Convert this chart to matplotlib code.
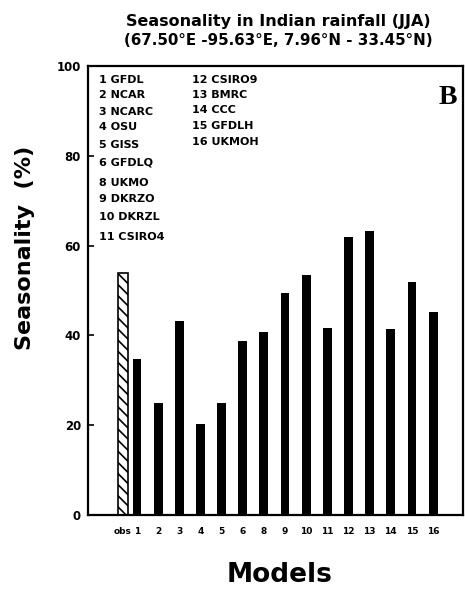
import matplotlib.pyplot as plt
import numpy as np

plt.rcParams['font.family'] = ['DejaVu Sans']
plt.rcParams['font.weight'] = 'bold'
plt.rcParams['hatch.linewidth'] = 1.2

obs_value = 54
model_ids = [1, 2, 3, 4, 5, 6, 8, 9, 10, 11, 12, 13, 14, 15, 16]
model_values = [34.7, 25, 43.3, 20.2, 25, 38.8, 40.7, 49.5, 53.5, 41.6, 62, 63.2, 41.4, 51.8, 45.1]
model_names = ["GFDL", "NCAR", "NCARC", "OSU", "GISS", "GFDLQ", "UKMO", "DKRZO",
               "DKRZL", "CSIRO4", "CSIRO9", "BMRC", "CCC", "GFDLH", "UKMOH"]

fig = plt.figure(figsize=(4.65, 5.91), dpi=100)
ax = fig.add_axes([0.189, 0.129, 0.807, 0.759])

x = np.arange(1, len(model_ids) + 1)
obs_x = 1 - 0.66
ax.bar(obs_x, obs_value, width=0.45, color="white", edgecolor="black",
       hatch="\\\\\\", linewidth=1.2)
ax.bar(x, model_values, width=0.42, color="black")

ax.set_xlim(-1.32, 16.42)
ax.set_ylim(0, 100)
ax.set_xticks([obs_x] + list(x))
ax.set_xticklabels(["obs"] + [str(m) for m in model_ids], fontsize=6.5, fontweight="bold")
ax.tick_params(axis="x", length=0, pad=9)
ax.set_yticks([0, 20, 40, 60, 80, 100])
ax.tick_params(axis="y", direction="in", length=4, width=1.2, labelsize=8.5, pad=5)
for s in ax.spines.values():
    s.set_linewidth(1.6)

# model key, two columns in the upper left
col1_y = [0.969, 0.935, 0.898, 0.864, 0.824, 0.786, 0.739, 0.704, 0.664, 0.619]
col2_y = [0.969, 0.935, 0.902, 0.866, 0.831]
for i, (m, n) in enumerate(zip(model_ids, model_names)):
    if i < 10:
        tx, ty = 0.03, col1_y[i]
    else:
        tx, ty = 0.277, col2_y[i - 10]
    ax.text(tx, ty, f"{m} {n}", transform=ax.transAxes, fontsize=8,
            fontweight="bold", va="center", ha="left")

ax.text(0.985, 0.93, "B", transform=ax.transAxes, fontsize=20, fontweight="bold",
        family=["Liberation Serif"], ha="right", va="center")

fig.text(0.598, 0.963, "Seasonality in Indian rainfall (JJA)", ha="center",
         va="center", fontsize=11.5, fontweight="bold")
fig.text(0.598, 0.932, "(67.50°E -95.63°E, 7.96°N - 33.45°N)", ha="center",
         va="center", fontsize=10.8, fontweight="bold")
fig.text(0.054, 0.58, "Seasonality  (%)", rotation=90, ha="center", va="center",
         fontsize=16, fontweight="bold")
fig.text(0.602, 0.027, "Models", ha="center", va="center", fontsize=19,
         fontweight="bold")

fig.savefig("out.png", dpi=100)
